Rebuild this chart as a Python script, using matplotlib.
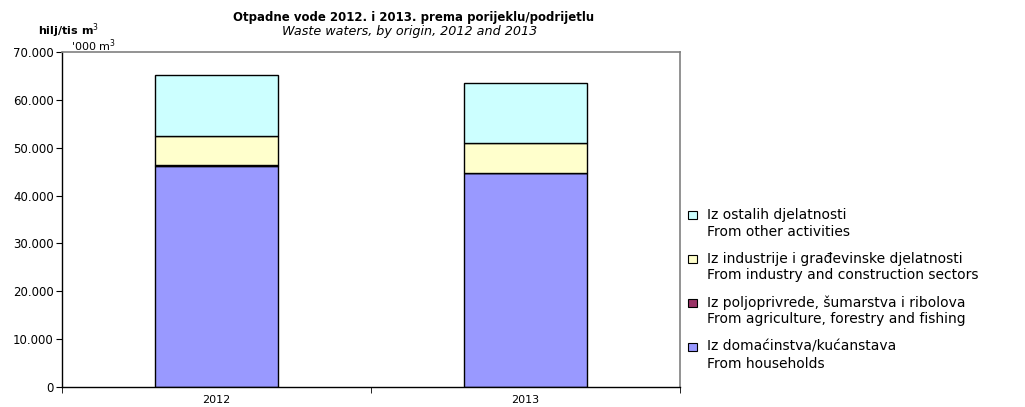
import numpy as np
import matplotlib.pyplot as plt
from matplotlib.patches import Rectangle

plt.rcParams['font.family'] = ['DejaVu Sans']

# data (thousand m3)
years = ['2012', '2013']
households = [46200, 44700]
agriculture = [100, 100]
industry = [6100, 6100]
other = [12700, 12600]

labels_hr = ['Iz domaćinstva/kućanstava',
             'Iz poljoprivrede, šumarstva i ribolova',
             'Iz industrije i građevinske djelatnosti',
             'Iz ostalih djelatnosti']
labels_en = ['From households',
             'From agriculture, forestry and fishing',
             'From industry and construction sectors',
             'From other activities']
colors = ['#9999FF', '#993366', '#FFFFCC', '#CCFFFF']
series = [households, agriculture, industry, other]

W, H = 1025, 407
fig = plt.figure(figsize=(W / 100, H / 100), dpi=100)
ax = fig.add_axes([0.0605, 0.0491, 0.6029, 0.8231])

x = np.arange(len(years))
bottom = np.zeros(len(years))
for vals, col in zip(series, colors):
    ax.bar(x, vals, width=0.4, bottom=bottom, color=col, edgecolor='black', linewidth=1.0)
    bottom += np.array(vals)

ax.set_xlim(-0.5, 1.5)
ax.set_ylim(0, 70000)
ax.set_yticks(np.arange(0, 70001, 10000))
ax.set_yticklabels([f'{v:,}'.replace(',', '.') for v in range(0, 70001, 10000)], fontsize=8.5)
ax.set_xticks(x)
ax.set_xticklabels(years, fontsize=8)
ax.set_xticks([-0.5, 0.5, 1.5], minor=True)
ax.tick_params(axis='x', which='major', length=0, pad=6)
ax.tick_params(axis='x', which='minor', length=4, direction='out')
ax.tick_params(axis='y', length=4, direction='out', pad=2)

for s in ['top', 'right']:
    ax.spines[s].set_color('#808080')
    ax.spines[s].set_linewidth(1.2)
for s in ['left', 'bottom']:
    ax.spines[s].set_color('black')
    ax.spines[s].set_linewidth(1.0)

fig.text(0.403, 0.958, 'Otpadne vode 2012. i 2013. prema porijeklu/podrijetlu',
         ha='center', va='center', fontsize=8.5, fontweight='bold')
fig.text(0.40, 0.922, 'Waste waters, by origin, 2012 and 2013',
         ha='center', va='center', fontsize=9.2, style='italic')
fig.text(0.037, 0.925, 'hilj/tis m$^3$', ha='left', va='center', fontsize=8, fontweight='bold')
fig.text(0.069, 0.888, "'000 m$^3$", ha='left', va='center', fontsize=8)

# legend, drawn by hand: marker next to the first line of each entry
y0, pitch, gap = 215, 44, 16.5
for i, k in enumerate([3, 2, 1, 0]):
    y1 = y0 + i * pitch
    fig.patches.append(Rectangle(((W - 337) / W, 1 - (y1 + 4) / H), 9 / W, 8 / H,
                                 transform=fig.transFigure, facecolor=colors[k],
                                 edgecolor='black', linewidth=0.8))
    fig.text(707 / W, 1 - y1 / H, labels_hr[k], ha='left', va='center', fontsize=10)
    fig.text(707 / W, 1 - (y1 + gap) / H, labels_en[k], ha='left', va='center', fontsize=10)

fig.savefig('out.png', dpi=100)
